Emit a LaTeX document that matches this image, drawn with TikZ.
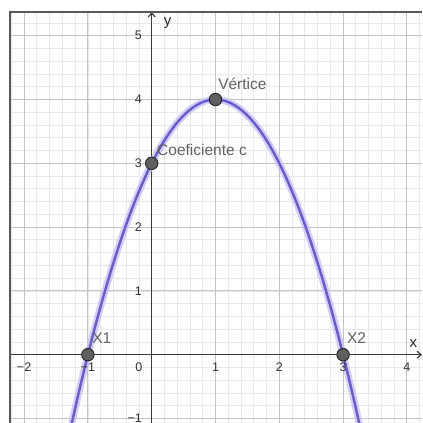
\documentclass[tikz,border=0pt]{standalone}
\usepackage{fontspec}
\setmainfont{Liberation Sans}
\usetikzlibrary{arrows.meta}
\definecolor{curvecore}{RGB}{104,90,214}
\definecolor{curvehalo}{RGB}{200,194,244}
\definecolor{minorgrid}{RGB}{232,232,232}
\definecolor{majorgrid}{RGB}{196,196,196}
\definecolor{axiscol}{RGB}{60,60,60}
\definecolor{ptfill}{RGB}{95,95,95}
\begin{document}
\begin{tikzpicture}[x=63.8pt,y=63.8pt,
  minorline/.style={draw=minorgrid, line width=0.8pt},
  majorline/.style={draw=majorgrid, line width=1pt},
  axisline/.style={draw=axiscol, line width=1.2pt},
  frameline/.style={draw=black!65, line width=1.6pt},
  ticklab/.style={font=\fontsize{12.5}{14}\selectfont, text=black!80, inner sep=0pt},
  axlab/.style={font=\fontsize{15}{17}\selectfont, text=black!85, inner sep=0pt},
  ptlabel/.style={font=\fontsize{15.5}{18}\selectfont, text=black!62, inner sep=0pt},
  ptdot/.style={circle, fill=ptfill, draw=black!85, line width=0.9pt, minimum size=12.5pt, inner sep=0pt},
  halo/.style={draw=curvehalo, line width=7pt, opacity=0.8},
  core/.style={draw=curvecore, line width=2.4pt}
]
\useasboundingbox (-2.378,-1.0705) rectangle (4.237,5.560);
\fill[white] (-2.378,-1.0705) rectangle (4.237,5.560);
\begin{scope}
\clip (-2.221,-1.0705) rectangle (4.237,5.371);
\draw[minorline] (-2.4,-1.2) grid[step=0.2] (4.4,5.6);
\draw[majorline] (-2.4,-1.2) grid[step=1] (4.4,5.6);
\coordinate (xl) at (-2.221,0);
\coordinate (xr) at (4.237,0);
\coordinate (yb) at (0,-1.0705);
\coordinate (yt) at (0,5.371);
\draw[axisline,-{Straight Barb[length=4pt,width=7pt]}] (xl) -- (xr);
\draw[axisline,-{Straight Barb[length=4pt,width=7pt]}] (yb) -- (yt);
\draw[halo, domain=-1.35:3.35, samples=120] plot (\x,{-(\x)*(\x)+2*\x+3});
\draw[core, domain=-1.35:3.35, samples=120] plot (\x,{-(\x)*(\x)+2*\x+3});
\end{scope}
\coordinate (fbl) at (-2.221,-1.0705);
\coordinate (ftl) at (-2.221,5.371);
\coordinate (ftr) at (4.237,5.371);
\draw[frameline] (fbl) -- (ftl) -- (ftr);
% tick labels
\foreach \v/\t in {-2/−2,-1/−1,1/1,2/2,3/3,4/4}
  \node[ticklab] (xt\v) at (\v,-0.2) {\t};
\foreach \v/\t in {1/1,2/2,3/3,4/4,5/5}
  \node[ticklab, anchor=east] (yt\v) at (-0.15,\v) {\t};
\node[ticklab, anchor=east] (ytm1) at (-0.15,-1) {−1};
\node[ticklab] (origin) at (-0.2,-0.2) {0};
\node[axlab] (xname) at (4.1,0.18) {x};
\node[axlab] (yname) at (0.25,5.2) {y};
% points
\node[ptdot] (X1) at (-1,0) {};
\node[ptdot] (C) at (0,3) {};
\node[ptdot] (V) at (1,4) {};
\node[ptdot] (X2) at (3,0) {};
\node[ptlabel, anchor=base west] (X1l) at (-0.935,0.18) {X1};
\node[ptlabel, anchor=base west] (Cl) at (0.083,3.13) {Coeficiente c};
\node[ptlabel, anchor=base west] (Vl) at (1.04,4.15) {Vértice};
\node[ptlabel, anchor=base west] (X2l) at (3.06,0.18) {X2};
\end{tikzpicture}
\end{document}
